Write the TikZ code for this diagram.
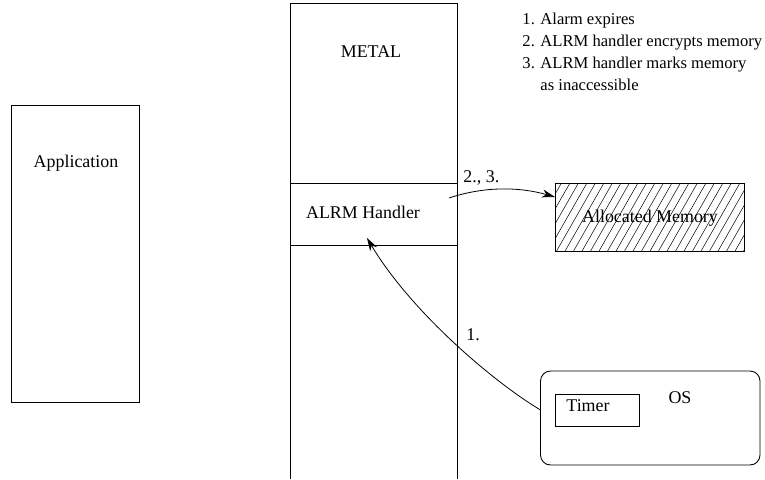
\documentclass[tikz,border=0pt]{standalone}
\usepackage{fontspec}
\setmainfont{Liberation Serif}
\usetikzlibrary{arrows.meta,calc}
\begin{document}
\begin{tikzpicture}[x=1pt,y=-1pt,
  font=\fontsize{17.9}{22}\selectfont,
  line width=0.9pt,
  boxnode/.style={draw, inner sep=0pt, outer sep=0pt, anchor=north west},
  txt/.style={inner sep=0pt, anchor=base},
  txtw/.style={inner sep=0pt, anchor=base west},
  notetxt/.style={inner sep=0pt, anchor=base west, font=\fontsize{16.6}{22}\selectfont},
  conn/.style={line width=0.8pt, -{Stealth[length=13pt,width=8pt,inset=4pt]}},
  hatch/.style={line width=0.5pt}
]
\useasboundingbox (0,0) rectangle (765,479);

% Application
\node[boxnode, minimum width=128pt, minimum height=297pt] (app) at (11,105) {};
\node[txt] (apptxt) at (76,167) {Application};

% METAL column (open at the bottom)
\node[inner sep=0pt, outer sep=0pt, anchor=north west, minimum width=166.5pt, minimum height=476pt] (metal) at (290.5,3) {};
\draw (metal.south west) -- (metal.north west) -- (metal.north east) -- (metal.south east);
\node[txt] (metaltxt) at (371,57) {METAL};

% ALRM handler
\node[boxnode, minimum width=166.5pt, minimum height=62pt] (alrm) at (290.5,183) {};
\node[txt] (alrmtxt) at (363,218) {ALRM Handler};

% Allocated memory (hatched)
\node[boxnode, minimum width=189pt, minimum height=68pt] (mem) at (555,183) {};
\begin{scope}
  \clip (mem.north west) rectangle (mem.south east);
  \foreach \x in {505,513.5,...,760} {
    \draw[hatch] (\x,252) -- (\x+40,182);
  }
\end{scope}
\node[txt] (memtxt) at (650,222) {Allocated Memory};

% OS
\node[boxnode, rounded corners=10pt, minimum width=219.5pt, minimum height=94pt] (os) at (540.5,371) {};
\node[txt] (ostxt) at (680,403) {OS};
\node[boxnode, minimum width=84pt, minimum height=32pt] (timer) at (555,394) {};
\node[txtw] (timertxt) at (566,411) {Timer};

% Notes
\node[notetxt] (n1) at (522,24) {1. Alarm expires};
\node[notetxt] (n2) at (522,46) {2. ALRM handler encrypts memory};
\node[notetxt] (n3) at (522,68) {3. ALRM handler marks memory};
\node[notetxt] (n4) at (522,90) {\phantom{3. }as inaccessible};

% Connectors
\coordinate (a2s) at ($(alrm.north east)+(-8,15)$);
\coordinate (a2e) at ($(mem.north west)+(0,14)$);
\draw[conn] (a2s) .. controls ($(a2s)+(36,-12)$) and ($(a2e)+(-35,-10)$) .. (a2e);
\node[txtw] (l23) at (463,182) {2., 3.};

\coordinate (a1s) at ($(os.west)+(0,-8)$);
\coordinate (a1e) at ($(alrm.south)+(-6.75,-7)$);
\draw[conn] (a1s) .. controls ($(a1s)+(-50,-30)$) and ($(a1e)+(43,72)$) .. (a1e);
\node[txtw] (l1) at (466,340) {1.};
\end{tikzpicture}
\end{document}
